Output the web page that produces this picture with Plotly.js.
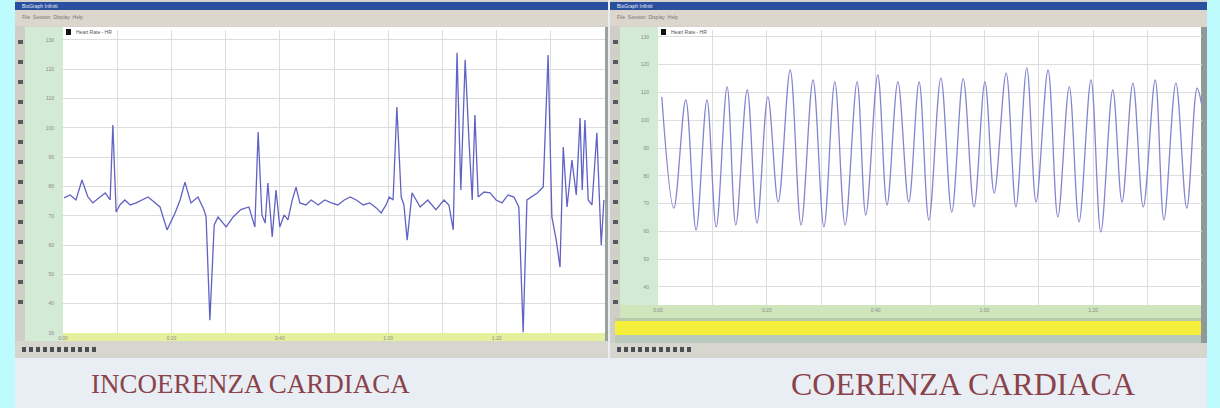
<!DOCTYPE html>
<html><head><meta charset="utf-8">
<script src="https://cdn.plot.ly/plotly-3.0.1.min.js"></script>
<style>html,body{margin:0;padding:0;background:#bdfbff;}#c{width:1220px;height:408px;}</style>
</head><body><div id="c"></div>
<script>
// ---- Left chart: "incoherent" heart rate (time in s, heart rate in bpm) ----
const leftTime = [0.2,1.3,2.4,3.5,4.6,5.5,6.6,7.8,8.7,9.2,9.8,10.5,11.4,12.4,13.5,14.6,15.7,16.8,17.9,19.2,20.7,21.6,22.5,23.6,24.9,26.0,26.4,27.1,27.9,28.6,30.1,31.4,32.8,34.3,35.4,36.0,36.7,37.3,37.8,38.6,39.3,40.0,40.8,41.5,42.3,43.0,43.7,44.8,45.8,47.1,48.3,49.5,50.7,51.9,53.0,54.1,55.4,56.6,57.8,58.7,59.6,60.2,60.9,61.6,62.4,62.9,63.5,64.4,65.1,65.9,67.3,68.8,70.3,71.2,72.0,72.7,73.4,74.2,74.9,75.5,76.0,76.6,77.7,78.8,79.9,81.0,82.1,83.2,84.1,84.9,85.6,86.5,87.5,88.6,89.5,90.2,91.0,91.7,92.3,93.0,93.9,94.7,95.4,95.8,96.3,96.9,97.6,98.5,99.3,99.8];
const leftHR   = [76.1,77.1,75.4,82.2,76.4,74.4,76.1,77.8,75.4,101.0,71.3,73.7,75.4,73.7,74.4,75.4,76.4,74.7,73.0,65.2,71.0,75.4,81.5,74.4,76.4,72.1,69.6,34.4,66.9,69.6,66.2,69.6,72.1,73.0,66.2,98.6,70.3,67.5,81.2,62.8,78.8,66.2,70.3,68.6,75.4,79.8,74.4,73.7,75.4,73.7,75.4,74.4,73.7,75.4,76.4,75.4,73.7,74.4,72.7,71.0,73.7,76.4,75.4,107.1,76.4,73.7,61.7,77.8,75.4,73.0,75.4,72.1,75.4,73.7,65.2,125.6,78.8,123.2,95.9,75.4,104.4,76.4,78.1,77.8,75.4,74.4,77.1,76.4,73.0,30.3,75.4,76.4,77.8,79.8,124.9,69.6,61.7,52.5,93.5,73.0,89.0,77.1,103.4,78.8,102.7,75.4,73.7,98.3,60.0,75.4];

// ---- Right chart: "coherent" heart rate (peaks and troughs) ----
const rightTime = [0.7,2.9,5.1,7.0,9.0,10.7,12.7,14.3,16.4,18.2,20.2,22.1,24.3,26.3,28.5,30.5,32.5,34.4,36.6,38.2,40.4,42.1,44.1,46.1,48.0,49.8,52.0,54.0,56.1,58.1,60.1,61.8,64.0,65.8,67.8,69.5,71.7,73.5,75.6,77.4,79.6,81.4,83.6,85.3,87.3,89.2,91.4,93.0,95.2,97.2,99.1,99.9];
const rightHR   = [108.4,68.4,107.3,60.5,107.3,61.6,112.0,62.3,110.9,63.0,108.4,70.6,118.1,62.3,114.5,61.6,113.8,62.3,113.8,65.9,116.3,69.5,113.8,70.6,113.8,64.1,115.2,67.0,114.9,68.8,113.8,73.8,117.0,68.8,118.8,70.6,118.1,65.2,112.0,63.4,114.5,59.8,110.9,70.6,113.4,68.8,114.5,64.1,113.4,68.4,111.6,106.0];

const hrTicks = [30,40,50,60,70,80,90,100,110,120,130];
const timeTicks = [0,10,20,30,40,50,60,70,80,90,100];
const timeLabels = ['0:00','','0:20','','0:40','','1:00','','1:20','',''];
const captions = ['INCOERENZA CARDIACA','COERENZA CARDIACA'];
const legendLabel = 'Heart Rate - HR';

const W = 1220, H = 408;
const px = x => x / W, py = y => 1 - y / H;
function rect(x0, y0, x1, y1, fill, lc, lw) {
  return {type:'rect', xref:'paper', yref:'paper', x0:px(x0), x1:px(x1), y0:py(y1), y1:py(y0),
    fillcolor:fill, line:{color:lc||fill, width:lw===undefined?0:lw}, layer:'below'};
}
function txt(x, y, s, size, color, anchor, family) {
  return {xref:'paper', yref:'paper', x:px(x), y:py(y), text:s, showarrow:false,
    xanchor:anchor||'left', yanchor:'middle', font:{size:size, color:color, family:family||'Liberation Sans, Arial'}};
}

const shapes = [
  rect(15, 0, 1207, 408, '#e9eef4'),
  // left window
  rect(15, 0, 608, 358, '#d4d4cc'),
  rect(15, 2, 608, 10, '#2a4f9e'),
  rect(15, 10, 608, 26, '#dcd6cc'),
  rect(15, 26, 25, 345, '#cfcfc8'),
  rect(25, 27, 63, 341, '#d3ead5'),
  rect(63, 27, 606, 333, '#ffffff'),
  rect(63, 333, 606, 341, '#e4f09c'),
  rect(15, 341, 608, 357, '#d6d6cf'),
  rect(605, 27, 608, 341, '#9aa2a0'),
  // right window
  rect(610, 0, 1207, 358, '#d4d4cc'),
  rect(610, 2, 1207, 10, '#2a4f9e'),
  rect(610, 10, 1207, 26, '#dcd6cc'),
  rect(610, 26, 620, 345, '#cfcfc8'),
  rect(620, 27, 658, 318, '#d3ead5'),
  rect(658, 27, 1202, 305, '#ffffff'),
  rect(620, 305, 1202, 318, '#cfe6bc'),
  rect(615, 318, 1202, 321, '#b7c9a6'),
  rect(615, 321, 1202, 335, '#f4ef3a'),
  rect(615, 335, 1202, 343, '#b9c9bb'),
  rect(610, 343, 1207, 357, '#d6d6cf'),
  rect(1201, 27, 1207, 343, '#8f9998'),
  // legend swatches
  rect(66, 29, 71, 35, '#111111'),
  rect(661, 29, 666, 35, '#111111')
];
// small toolbar icons
for (let i = 0; i < 14; i++) {
  shapes.push(rect(18, 40 + i * 20, 23, 44 + i * 20, '#555a60'));
  shapes.push(rect(613, 40 + i * 20, 618, 44 + i * 20, '#555a60'));
}
for (let i = 0; i < 11; i++) {
  shapes.push(rect(22 + i * 7, 347, 26 + i * 7, 352, '#4a4e55'));
  shapes.push(rect(617 + i * 7, 347, 621 + i * 7, 352, '#4a4e55'));
}

const annotations = [
  txt(74, 32, legendLabel, 5, '#555'),
  txt(669, 32, legendLabel, 5, '#555'),
  txt(20, 6, 'BioGraph Infiniti', 5, '#e8ecf5'),
  txt(615, 6, 'BioGraph Infiniti', 5, '#e8ecf5'),
  txt(20, 17, 'File  Session  Display  Help', 5, '#777'),
  txt(615, 17, 'File  Session  Display  Help', 5, '#777'),
  txt(250, 384, captions[0], 27, '#8a434b', 'center', 'Liberation Serif, Times New Roman, serif'),
  txt(963, 384, captions[1], 32, '#8a434b', 'center', 'Liberation Serif, Times New Roman, serif')
];

const gridC = '#dddddd';
const traces = [
  {x:leftTime, y:leftHR, xaxis:'x', yaxis:'y', type:'scatter', mode:'lines',
   line:{color:'#6262c4', width:1.3}, hoverinfo:'x+y'},
  {x:rightTime, y:rightHR, xaxis:'x2', yaxis:'y2', type:'scatter', mode:'lines',
   line:{color:'#8585cf', width:1.3, shape:'spline', smoothing:1}, hoverinfo:'x+y'}
];
const tickFont = {size:5, color:'#8a8a8a', family:'Liberation Sans, Arial'};
const layout = {
  width:W, height:H, margin:{l:0,r:0,t:0,b:0}, paper_bgcolor:'#bdfbff', plot_bgcolor:'rgba(0,0,0,0)',
  showlegend:false, shapes:shapes, annotations:annotations,
  xaxis:{domain:[px(63), px(605)], range:[0,100], tickvals:timeTicks, ticktext:timeLabels, showgrid:true, gridcolor:gridC,
    zeroline:false, showline:false, ticks:'', tickfont:tickFont, ticklabelstandoff:1},
  yaxis:{domain:[py(333), py(30)], range:[30,133.4], tickvals:hrTicks, showgrid:true, gridcolor:gridC,
    zeroline:false, showline:false, ticks:'', tickfont:tickFont, ticklabelstandoff:8},
  xaxis2:{domain:[px(658), px(1202)], range:[0,100], tickvals:timeTicks, ticktext:timeLabels, showgrid:true, gridcolor:gridC,
    zeroline:false, showline:false, ticks:'', tickfont:tickFont, ticklabelstandoff:1, anchor:'y2'},
  yaxis2:{domain:[py(305), py(30)], range:[33.5,132.5], tickvals:hrTicks.slice(1), showgrid:true, gridcolor:gridC,
    zeroline:false, showline:false, ticks:'', tickfont:tickFont, ticklabelstandoff:8, anchor:'x2'}
};
Plotly.newPlot('c', traces, layout, {displayModeBar:false, staticPlot:true});
</script></body></html>
